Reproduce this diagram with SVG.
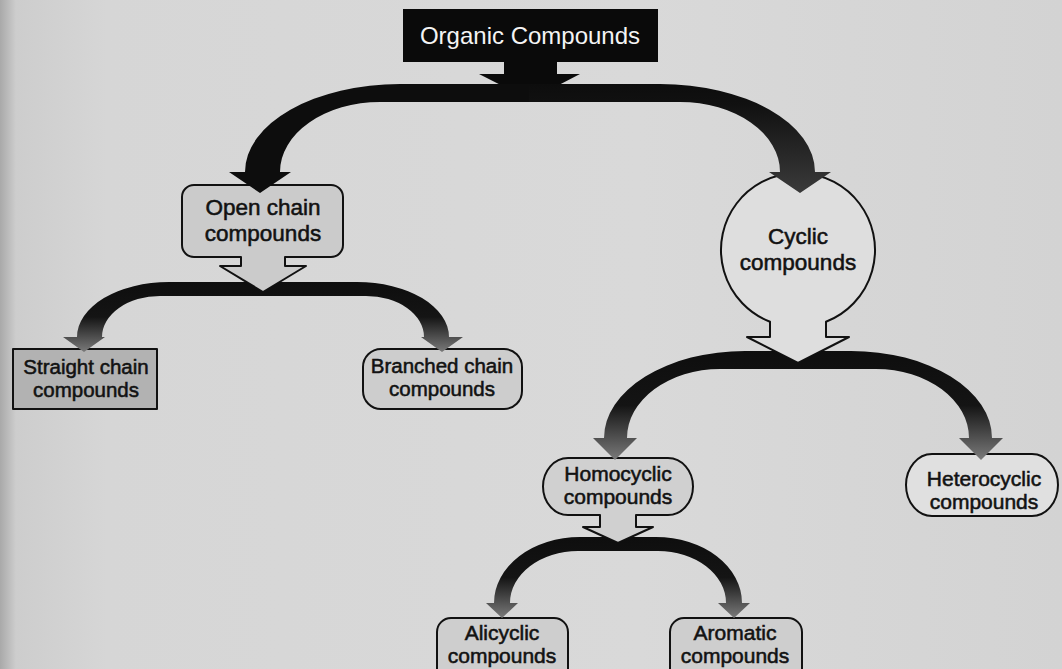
<svg xmlns="http://www.w3.org/2000/svg" width="1062" height="669" viewBox="0 0 1062 669">
<defs>
<linearGradient id="bg" x1="0" y1="0" x2="1" y2="0">
<stop offset="0" stop-color="#a9a9a9"/>
<stop offset="0.015" stop-color="#cdcdcd"/>
<stop offset="0.1" stop-color="#d6d6d6"/>
<stop offset="0.6" stop-color="#d9d9d9"/>
<stop offset="1" stop-color="#d3d3d3"/>
</linearGradient>
<linearGradient id="fade" x1="0" y1="0" x2="0" y2="1">
<stop offset="0" stop-color="#0e0e0e"/>
<stop offset="0.5" stop-color="#141414"/>
<stop offset="1" stop-color="#7a7a7a"/>
</linearGradient>
<linearGradient id="fadeDark" x1="0" y1="0" x2="0" y2="1">
<stop offset="0" stop-color="#0d0d0d"/>
<stop offset="0.2" stop-color="#111111"/>
<stop offset="1" stop-color="#3a3a3a"/>
</linearGradient>
<style>
.lbl{font-family:"Liberation Sans",Arial,sans-serif;font-size:21px;fill:#121212;stroke:#121212;stroke-width:0.55;text-anchor:middle}
.node{stroke:#111;stroke-width:2;stroke-linejoin:round}
.solid{fill:#0d0d0d}
.fade{fill:url(#fade)}
.dark{fill:url(#fadeDark)}
</style>
</defs>
<rect x="0" y="0" width="1062" height="669" fill="url(#bg)"/>

<g id="nodes">
<g id="organic">
<rect x="403" y="9" width="255" height="53" fill="#0a0a0a"/>
<polygon points="504,60 557,60 557,74 580,74 530,100 479,74 504,74" fill="#0a0a0a"/>
<text x="530" y="44" style="font-family:'Liberation Sans',Arial,sans-serif;font-size:24px;fill:#f4f4f4;text-anchor:middle">Organic Compounds</text>
</g>
<g id="open-chain">
<path class="node" fill="#cbcbcb" d="M194 185 H331 A12 12 0 0 1 343 197 V245 A12 12 0 0 1 331 257 H285 V266 H306 L263 292 L220 266 H241 V257 H194 A12 12 0 0 1 182 245 V197 A12 12 0 0 1 194 185 Z"/>
<text class="lbl" x="263" y="215" style="font-size:22.5px">Open chain</text>
<text class="lbl" x="263" y="241" style="font-size:22.5px">compounds</text>
</g>
<g id="cyclic">
<path class="node" fill="#dedede" d="M826 321.7 V337 H849 L798 363 L747 337 H770 V321.7 A77 77 0 1 1 826 321.7 Z"/>
<text class="lbl" x="798" y="244" style="font-size:22.5px">Cyclic</text>
<text class="lbl" x="798" y="270" style="font-size:22.5px">compounds</text>
</g>
<g id="straight-chain">
<rect class="node" x="13" y="349" width="144" height="60" fill="#b2b2b2"/>
<text class="lbl" x="86" y="374" style="font-size:20.5px">Straight chain</text>
<text class="lbl" x="86" y="397" style="font-size:20.5px">compounds</text>
</g>
<g id="branched-chain">
<rect class="node" x="363" y="349" width="159" height="60" rx="18" fill="#cdcdcd"/>
<text class="lbl" x="442" y="373" style="font-size:20.5px">Branched chain</text>
<text class="lbl" x="442" y="396" style="font-size:20.5px">compounds</text>
</g>
<g id="homocyclic">
<path class="node" fill="#d0d0d0" d="M568 458 H668 A25 28.5 0 0 1 668 515 H636 V527 H653 L618 543 L583 527 H600 V515 H568 A25 28.5 0 0 1 568 458 Z"/>
<text class="lbl" x="618" y="481">Homocyclic</text>
<text class="lbl" x="618" y="504">compounds</text>
</g>
<g id="heterocyclic">
<path class="node" fill="#e0e0e0" d="M932 454 H1032 A26 31 0 0 1 1032 516 H932 A26 31 0 0 1 932 454 Z"/>
<text class="lbl" x="984" y="486">Heterocyclic</text>
<text class="lbl" x="984" y="509">compounds</text>
</g>
<g id="alicyclic">
<rect class="node" x="437" y="618" width="131" height="70" rx="14" fill="#cecece"/>
<text class="lbl" x="502" y="640">Alicyclic</text>
<text class="lbl" x="502" y="663">compounds</text>
</g>
<g id="aromatic">
<rect class="node" x="670" y="618" width="132" height="70" rx="14" fill="#cecece"/>
<text class="lbl" x="735" y="640">Aromatic</text>
<text class="lbl" x="735" y="663">compounds</text>
</g>
</g>

<g id="connectors">
<path class="solid" d="M531 84 H400 A155 88 0 0 0 245 172 H229 L260 193 L291 172 H280 A100 70 0 0 1 380 102 H531 Z"/>
<path class="dark" d="M529 84 H660 A155 88 0 0 1 815 172 H831 L800 193 L769 172 H780 A100 70 0 0 0 680 102 H529 Z"/>
<path class="fade" d="M246.5 282 H169 A92 55 0 0 0 77 337 H63 L84 352 L105 337 H102 A58 41 0 0 1 160 296 H264 V293 L263 292 Z"/>
<path class="fade" d="M279.5 282 H357 A92 55 0 0 1 449 337 H463 L442 352 L421 337 H424 A58 41 0 0 0 366 296 H262 V293 L263 292 Z"/>
<path class="fade" d="M774.5 351 H745 A141 87 0 0 0 604 438 H593 L615 460 L637 438 H627 A93 69 0 0 1 720 369 H799 V364 L798 363 Z"/>
<path class="fade" d="M821.5 351 H851 A141 87 0 0 1 992 438 H1003 L981 460 L959 438 H969 A93 69 0 0 0 876 369 H797 V364 L798 363 Z"/>
<path class="fade" d="M604.9 537 H580 A86 66 0 0 0 494 603 H486 L502 618 L518 603 H510 A68 52 0 0 1 578 551 H619 V544 L618 543 Z"/>
<path class="fade" d="M631.1 537 H656 A86 66 0 0 1 742 603 H750 L734 618 L718 603 H726 A68 52 0 0 0 658 551 H617 V544 L618 543 Z"/>
</g>
</svg>
